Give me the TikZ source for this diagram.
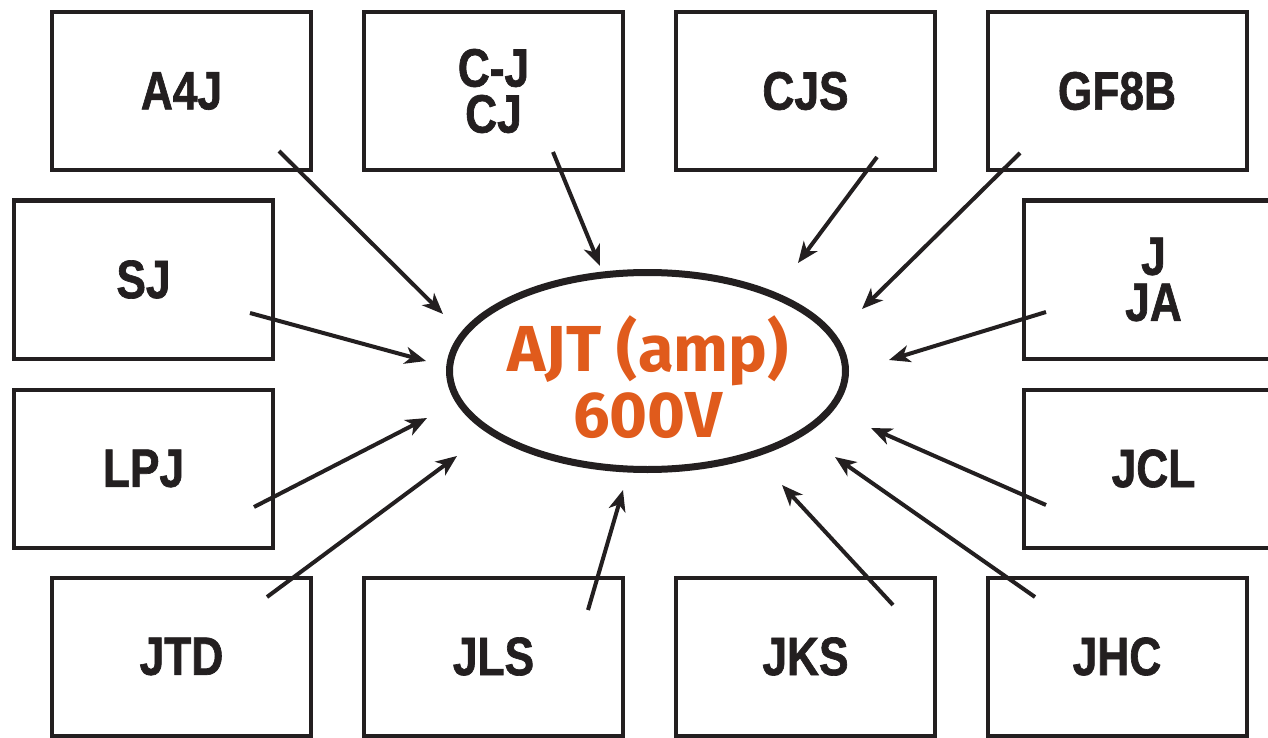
\documentclass[tikz,border=0pt]{standalone}
\usepackage{fontspec}
\usepackage{tikz}
\usetikzlibrary{arrows.meta,shapes.geometric}
\newfontfamily\boxfont[FakeStretch=0.82,FakeBold=1.2]{Liberation Sans}
\newfontfamily\ajtfont{Fira Sans}
\definecolor{inkdark}{RGB}{35,31,32}
\definecolor{ajtorange}{RGB}{224,91,28}
\tikzset{
  srcbox/.style={draw=inkdark, line width=4pt, minimum width=259pt, minimum height=158pt, inner sep=0pt, align=center, text=inkdark, font=\boxfont\bfseries\fontsize{54}{46}\selectfont},
  feed/.style={draw=inkdark, line width=4pt, -{Stealth[length=21pt,width=17pt,inset=6pt]}}
}
\begin{document}
\begin{tikzpicture}[x=1pt, y=-1pt]
\clip (0,0) rectangle (1268,738);
\fill[white] (0,0) rectangle (1268,738);

\node[srcbox] (a4j)  at (181.5,91)   {A4J};
\node[srcbox] (cj)   at (493.5,91)   {C-J\\CJ};
\node[srcbox] (cjs)  at (805.5,91)   {CJS};
\node[srcbox] (gf8b) at (1117,91)    {GF8B};
\node[srcbox] (sj)   at (143.5,279.5) {SJ};
\node[srcbox] (ja)   at (1153.5,279.5) {J\\JA};
\node[srcbox] (lpj)  at (143.5,468.5) {LPJ};
\node[srcbox] (jcl)  at (1153.5,468.5) {JCL};
\node[srcbox] (jtd)  at (181.5,656.5) {JTD};
\node[srcbox] (jls)  at (493.5,656.5) {JLS};
\node[srcbox] (jks)  at (805.5,656.5) {JKS};
\node[srcbox] (jhc)  at (1117,656.5)  {JHC};

\node[ellipse, draw=inkdark, line width=7pt, minimum width=396pt, minimum height=197pt, inner sep=0pt] (ajt) at (647.5,371) {};
\node[align=center, text=ajtorange, font=\ajtfont\bfseries\fontsize{65}{66}\selectfont] (ajt-label) at (648,377) {AJT (amp)\\600V};

\coordinate (a4j-o)  at (279,151);   \coordinate (a4j-i)  at (443,314);
\coordinate (cj-o)   at (553,152);   \coordinate (cj-i)   at (600,266);
\coordinate (cjs-o)  at (877,157);   \coordinate (cjs-i)  at (798,263);
\coordinate (gf8b-o) at (1020,153);  \coordinate (gf8b-i) at (862,309);
\coordinate (sj-o)   at (250,313);   \coordinate (sj-i)   at (426,361);
\coordinate (ja-o)   at (1046,312);  \coordinate (ja-i)   at (889,360);
\coordinate (lpj-o)  at (254,507);   \coordinate (lpj-i)  at (427,418);
\coordinate (jcl-o)  at (1046,505);  \coordinate (jcl-i)  at (871,428);
\coordinate (jtd-o)  at (267,597);   \coordinate (jtd-i)  at (457,456);
\coordinate (jls-o)  at (588,610);   \coordinate (jls-i)  at (623,490);
\coordinate (jks-o)  at (893,605);   \coordinate (jks-i)  at (782,485);
\coordinate (jhc-o)  at (1035,597);  \coordinate (jhc-i)  at (835,457);

\draw[feed] (a4j-o)--(a4j-i);
\draw[feed] (cj-o)--(cj-i);
\draw[feed] (cjs-o)--(cjs-i);
\draw[feed] (gf8b-o)--(gf8b-i);
\draw[feed] (sj-o)--(sj-i);
\draw[feed] (ja-o)--(ja-i);
\draw[feed] (lpj-o)--(lpj-i);
\draw[feed] (jcl-o)--(jcl-i);
\draw[feed] (jtd-o)--(jtd-i);
\draw[feed] (jls-o)--(jls-i);
\draw[feed] (jks-o)--(jks-i);
\draw[feed] (jhc-o)--(jhc-i);
\end{tikzpicture}
\end{document}
